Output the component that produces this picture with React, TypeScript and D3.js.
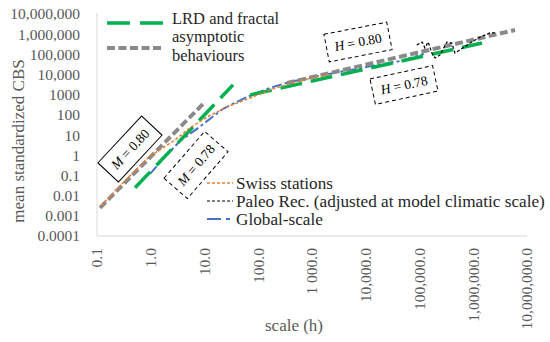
import React from "react";
import * as d3 from "d3";

// ---------- data ----------
const xTickValues = [0.1, 1, 10, 100, 1000, 1e4, 1e5, 1e6, 1e7];
const xTickLabels = ["0.1", "1.0", "10.0", "100.0", "1 000.0", "10,000.0", "100,000.0", "1,000,000.0", "10,000,000.0"];
const yTickValues = [1e-4, 1e-3, 1e-2, 1e-1, 1, 10, 100, 1000, 1e4, 1e5, 1e6, 1e7];
const yTickLabels = ["0.0001", "0.001", "0.01", "0.1", "1", "10", "100", "1000", "10,000", "100,000", "1,000,000", "10,000,000"];

const swissX = [0.119, 0.33, 0.97, 1.49, 2.83, 5.4, 11.2, 26, 71, 186, 810, 2140];
const swissY = [0.0032, 0.054, 0.93, 1.86, 5.8, 23, 79, 250, 690, 1950, 6000, 10700];

const globalX = [0.97, 1.84, 3.5, 8.2, 22, 62, 166, 390, 1050, 3300, 10500, 44000, 120000];
const globalY = [0.12, 0.83, 5.1, 26, 200, 780, 2190, 4270, 7600, 13500, 24000, 47000, 105000];

const paleoX = [89000, 112000, 126000, 145000, 170000, 195000, 240000, 324000, 400000, 457000, 562000, 871000, 1350000, 2040000, 2750000];
const paleoY = [295000, 407000, 209000, 407000, 117000, 66000, 93000, 407000, 363000, 117000, 166000, 363000, 724000, 1150000, 1150000];

// asymptotic behaviours (LRD / fractal)
const greenMX = [0.51, 33.9];
const greenMY = [0.0245, 3080];
const greenHX = [71, 1455000];
const greenHY = [977, 366000];
const grayMX = [0.114, 10.2];
const grayMY = [0.0025, 436];
const grayHX = [343, 5980000];
const grayHY = [3800, 1610000];

const topLegendLines = ["LRD and fractal", "asymptotic", "behaviours"];
const bottomLegend = ["Swiss stations", "Paleo Rec. (adjusted at model climatic scale)", "Global-scale"];
const annotations = [
  { sym: "M", val: "0.80" },
  { sym: "M", val: "0.78" },
  { sym: "H", val: "0.80" },
  { sym: "H", val: "0.78" },
];

const FONT = "'Liberation Serif', 'Times New Roman', serif";

export default function App() {
  const x = d3.scaleLog().domain([0.1, 1e7]).range([97, 527]);
  const y = d3.scaleLog().domain([1e-4, 1e7]).range([236, 14]);
  const line = d3
    .line<[number, number]>()
    .x((d) => x(d[0]))
    .y((d) => y(d[1]));
  const zip = (a: number[], b: number[]) => a.map((v, i) => [v, b[i]] as [number, number]);

  const boxes = [
    { cx: 130, cy: 149, w: 64, h: 28, a: -47, dash: undefined },
    { cx: 196, cy: 165, w: 62, h: 31, a: -49, dash: "4,3" },
    { cx: 358, cy: 42, w: 64, h: 28, a: -11, dash: "4,3" },
    { cx: 404, cy: 85, w: 64, h: 26, a: -12, dash: "4,3" },
  ];

  return (
    <svg width={550} height={342} style={{ position: "absolute", left: 0, top: 0, background: "#fff" }}>
      <rect x={0} y={0} width={550} height={342} fill="#fff" />
      {/* axes */}
      <line x1={97} y1={13} x2={97} y2={236} stroke="#d9d9d9" strokeWidth={1} />
      <line x1={97} y1={236} x2={527} y2={236} stroke="#d9d9d9" strokeWidth={1} />

      {/* y ticks */}
      {yTickValues.map((v, i) => (
        <text key={"y" + i} x={80} y={y(v)} dy="0.35em" textAnchor="end" fontFamily={FONT} fontSize={15.5} fill="#595959">
          {yTickLabels[i]}
        </text>
      ))}
      {/* x ticks */}
      {xTickValues.map((v, i) => (
        <text
          key={"x" + i}
          transform={`translate(${x(v)},248) rotate(-90)`}
          dy="0.35em"
          textAnchor="end"
          fontFamily={FONT}
          fontSize={15.5}
          fill="#595959"
        >
          {xTickLabels[i]}
        </text>
      ))}
      {/* axis titles */}
      <text x={294} y={331} textAnchor="middle" fontFamily={FONT} fontSize={17} fill="#595959">
        scale (h)
      </text>
      <text transform="translate(24,141) rotate(-90)" textAnchor="middle" fontFamily={FONT} fontSize={17} fill="#595959">
        mean standardized CBS
      </text>

      {/* series */}
      <path d={line(zip(globalX, globalY)) || ""} fill="none" stroke="#4472C4" strokeWidth={2} strokeDasharray="10,3,3,3" />
      <path d={line(zip(grayMX, grayMY)) || ""} fill="none" stroke="#8a8a8a" strokeWidth={4} strokeDasharray="8,3.5" />
      <path d={line(zip(grayHX, grayHY)) || ""} fill="none" stroke="#8a8a8a" strokeWidth={4} strokeDasharray="8,3.5" />
      <path d={line(zip(greenMX, greenMY)) || ""} fill="none" stroke="#00B050" strokeWidth={3.5} strokeDasharray="22,9" />
      <path d={line(zip(greenHX, greenHY)) || ""} fill="none" stroke="#00B050" strokeWidth={3.5} strokeDasharray="22,9" />
      <path d={line(zip(swissX, swissY)) || ""} fill="none" stroke="#ED7D31" strokeWidth={1.5} strokeDasharray="3,2" />
      <path d={line(zip(paleoX, paleoY)) || ""} fill="none" stroke="#000" strokeWidth={1.2} strokeDasharray="3,2" />

      {/* annotation boxes */}
      {boxes.map((b, i) => (
        <g key={"b" + i} transform={`translate(${b.cx},${b.cy}) rotate(${b.a})`}>
          <rect x={-b.w / 2} y={-b.h / 2} width={b.w} height={b.h} fill="#fff" stroke="#000" strokeWidth={1} strokeDasharray={b.dash} />
          <text x={0} y={0} dy="0.35em" textAnchor="middle" fontFamily={FONT} fontSize={13.5} fill="#000">
            <tspan fontStyle="italic">{annotations[i].sym}</tspan>
            {" = " + annotations[i].val}
          </text>
        </g>
      ))}

      {/* top legend */}
      <line x1={107} y1={23} x2={163} y2={23} stroke="#00B050" strokeWidth={3.5} strokeDasharray="23,10" />
      <line x1={107} y1={48} x2={163} y2={48} stroke="#8a8a8a" strokeWidth={4} strokeDasharray="8,3.5" />
      {topLegendLines.map((t, i) => (
        <text key={"tl" + i} x={172} y={23.5 + i * 18.8} fontFamily={FONT} fontSize={16.5} fill="#262626">
          {t}
        </text>
      ))}

      {/* bottom legend */}
      <line x1={207} y1={183} x2={233} y2={183} stroke="#ED7D31" strokeWidth={1.5} strokeDasharray="3,2" />
      <line x1={207} y1={201} x2={233} y2={201} stroke="#000" strokeWidth={1.2} strokeDasharray="3,2" />
      <line x1={207} y1={219} x2={233} y2={219} stroke="#4472C4" strokeWidth={2} strokeDasharray="14,5,4,5" />
      {bottomLegend.map((t, i) => (
        <text key={"bl" + i} x={236} y={188.5 + i * 18} fontFamily={FONT} fontSize={17.2} fill="#262626">
          {t}
        </text>
      ))}
    </svg>
  );
}
